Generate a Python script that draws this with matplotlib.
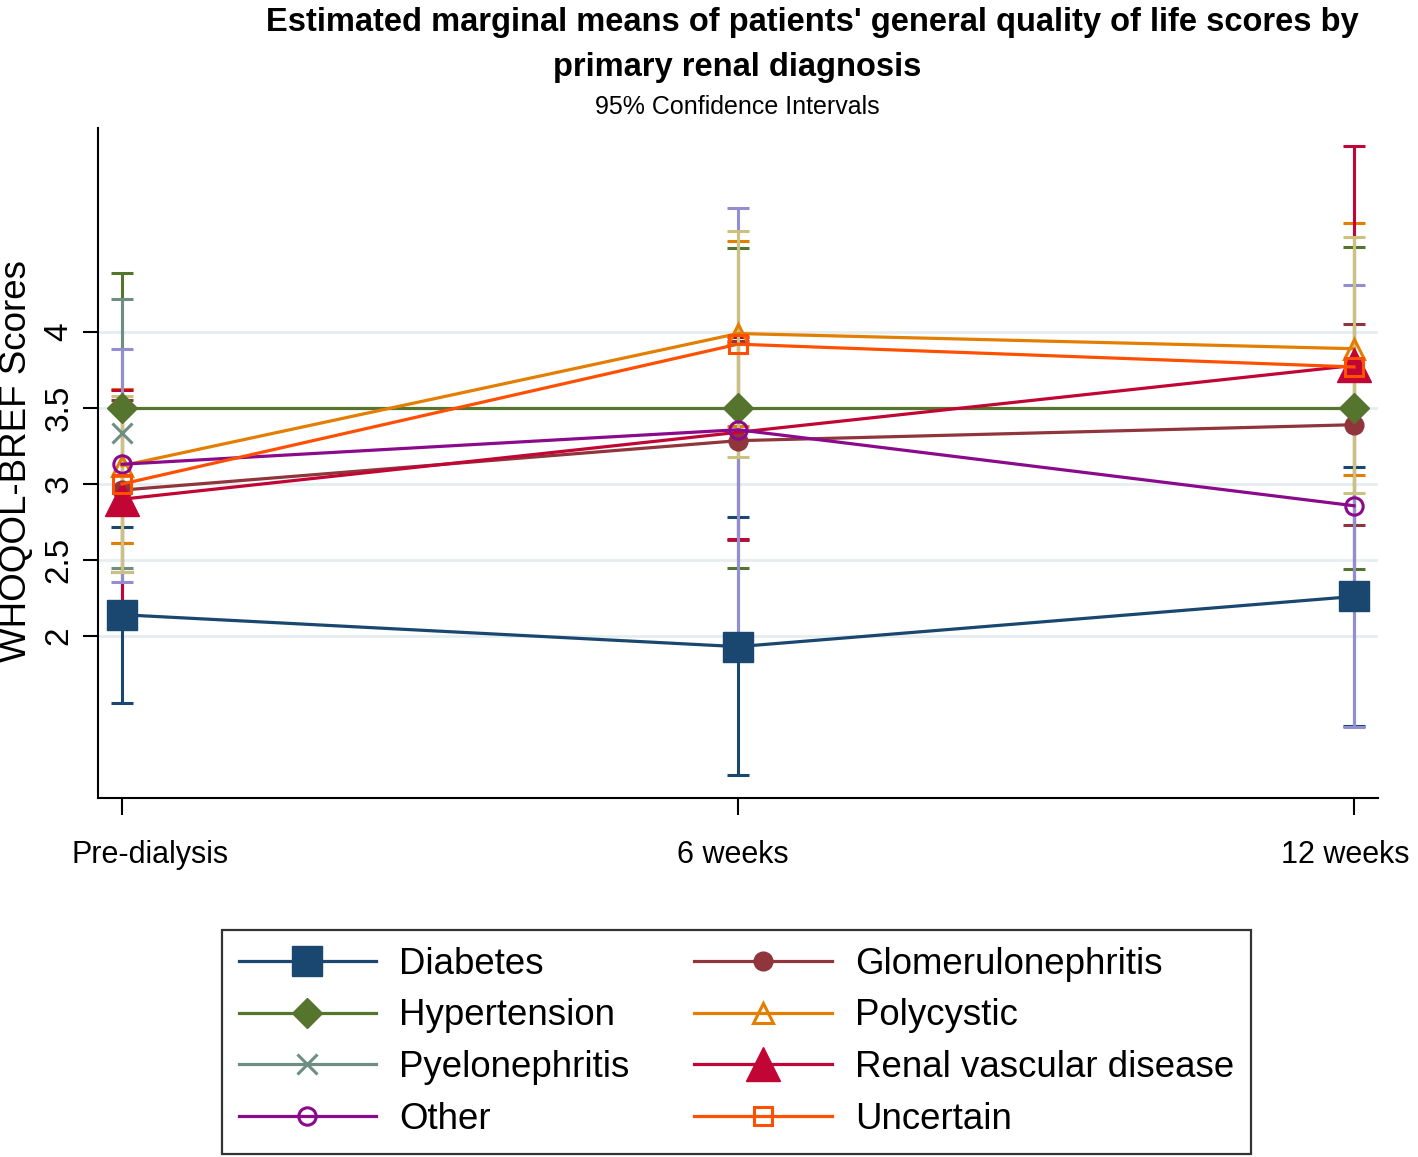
import numpy as np
import matplotlib
matplotlib.use("Agg")
import matplotlib.pyplot as plt

# ---------------- data ----------------
timepoints = ["Pre-dialysis", "6 weeks", "12 weeks"]
diagnoses = ["Diabetes", "Glomerulonephritis", "Hypertension", "Polycystic",
             "Pyelonephritis", "Renal vascular disease", "Other", "Uncertain"]

nan = np.nan
mean_diabetes = [2.14, 1.93, 2.26]
mean_glomerulo = [2.96, 3.285, 3.39]
mean_hypertension = [3.50, 3.50, 3.50]
mean_polycystic = [3.12, 3.99, 3.89]
mean_pyelo = [3.333, nan, nan]
mean_renal = [2.90, 3.34, 3.78]
mean_other = [3.13, 3.357, 2.857]
mean_uncertain = [3.00, 3.92, 3.77]

lo_diabetes = [1.56, 1.087, 1.41]
hi_diabetes = [2.72, 2.78, 3.11]
lo_glomerulo = [2.42, 2.63, 2.73]
hi_glomerulo = [3.55, 3.94, 4.05]
lo_hypertension = [2.61, 2.445, 2.44]
hi_hypertension = [4.386, 4.555, 4.556]
lo_polycystic = [2.61, 3.38, 3.06]
hi_polycystic = [3.623, 4.598, 4.714]
lo_pyelo = [2.45, nan, nan]
hi_pyelo = [4.215, nan, nan]
lo_renal = [2.15, 2.64, 2.34]
hi_renal = [3.62, 3.97, 5.221]
lo_other = [2.357, 1.90, 1.404]
hi_other = [3.888, 4.817, 4.31]
lo_uncertain = [2.42, 3.18, 2.94]
hi_uncertain = [3.58, 4.664, 4.624]

yticks = [2, 2.5, 3, 3.5, 4]
ytick_labels = ["2", "2.5", "3", "3.5", "4"]

means = [mean_diabetes, mean_glomerulo, mean_hypertension, mean_polycystic,
         mean_pyelo, mean_renal, mean_other, mean_uncertain]
lows = [lo_diabetes, lo_glomerulo, lo_hypertension, lo_polycystic,
        lo_pyelo, lo_renal, lo_other, lo_uncertain]
highs = [hi_diabetes, hi_glomerulo, hi_hypertension, hi_polycystic,
         hi_pyelo, hi_renal, hi_other, hi_uncertain]

# ---------------- styles ----------------
line_colors = ["#1a476f", "#90353b", "#55752f", "#e37e00",
               "#6e8e84", "#c10534", "#8b0a8c", "#ff4f00"]
ci_colors = ["#1a476f", "#90353b", "#55752f", "#e37e00",
             "#6e8e84", "#c10534", "#938dd2", "#cac27e"]
markers = ["s", "o", "D", "^", "x", "^", "o", "s"]
msizes = [22, 13.5, 15, 15, 14, 24, 12.5, 13]
filled = [True, True, True, False, True, True, False, False]
mark_every = [None, None, None, None, None, [0, 2], None, None]

text_family = ["Liberation Sans", "DejaVu Sans"]
plt.rcParams["font.family"] = text_family

W, H = 1418, 1157
fig = plt.figure(figsize=(W / 100, H / 100), dpi=100)
ax = fig.add_axes([98 / W, 1 - 798 / H, (1378 - 98) / W, (798 - 128) / H])

x = np.arange(1, len(timepoints) + 1)

# CIs first
for i in range(len(diagnoses)):
    m = np.array(means[i], dtype=float)
    lo = np.array(lows[i], dtype=float)
    hi = np.array(highs[i], dtype=float)
    ax.errorbar(x, m, yerr=[m - lo, hi - m], fmt="none",
                ecolor=ci_colors[i], elinewidth=2.2, capsize=8,
                capthick=2.2, zorder=2 + i * 0.01)

handles = []
for i in range(len(diagnoses)):
    c = line_colors[i]
    mew = 2.2 if (not filled[i] or markers[i] == "x") else 1.0
    h, = ax.plot(x, means[i], color=c, lw=2.3, marker=markers[i],
                 ms=msizes[i], mfc=c if filled[i] else "none", mec=c,
                 mew=mew, zorder=5 + i, label=diagnoses[i],
                 markevery=mark_every[i])
    handles.append(h)

ax.set_xlim(1 - 24 / 616, 3 + 24 / 616)
ax.set_ylim(2 - 162 / 152, 2 + 508 / 152)

ax.set_yticks(yticks)
ax.set_yticklabels(ytick_labels, rotation=90, va="center", fontsize=24)
ax.set_xticks(x)
ax.set_xticklabels([""] * len(timepoints))
label_dx = [28, -5, -9]
for xi, lab, dx in zip(x, timepoints, label_dx):
    ax.annotate(lab, xy=(xi, 0), xycoords=("data", "axes fraction"),
                xytext=(dx, -57), textcoords="offset pixels",
                ha="center", va="center", fontsize=22, annotation_clip=False)

ax.tick_params(axis="y", length=11, width=1.5, pad=6, direction="out")
ax.tick_params(axis="x", length=12, width=1.5, direction="out")
ax.yaxis.grid(True, color="#e6eef0", lw=2.0, zorder=0)
ax.set_axisbelow(True)
for s in ["top", "right"]:
    ax.spines[s].set_visible(False)
for s in ["left", "bottom"]:
    ax.spines[s].set_linewidth(1.5)
    ax.spines[s].set_color("black")

# titles
fig.text(812 / W, 1 - 31 / H,
         "Estimated marginal means of patients' general quality of life scores by",
         ha="center", va="baseline", fontsize=23.5, fontweight="bold")
fig.text(737 / W, 1 - 76 / H, "primary renal diagnosis",
         ha="center", va="baseline", fontsize=23.5, fontweight="bold")
fig.text(737 / W, 1 - 114 / H, "95% Confidence Intervals",
         ha="center", va="baseline", fontsize=18)

fig.text(17 / W, 1 - 461 / H, "WHOQOL-BREF Scores", rotation=90,
         ha="center", va="center", fontsize=26.5)

# legend filled row by row (matplotlib fills columns first)
order = [0, 2, 4, 6, 1, 3, 5, 7]
leg = fig.legend(handles=[handles[k] for k in order], loc="upper left",
                 ncol=2, bbox_to_anchor=(222 / W, 1 - 930 / H),
                 borderaxespad=0,
                 fontsize=26.4, frameon=True, fancybox=False,
                 edgecolor="black", handlelength=3.75, handletextpad=0.64,
                 columnspacing=1.75, labelspacing=0.46, borderpad=0.45)
leg.get_frame().set_linewidth(1.6)

fig.savefig("out.png", dpi=100, facecolor="white")
